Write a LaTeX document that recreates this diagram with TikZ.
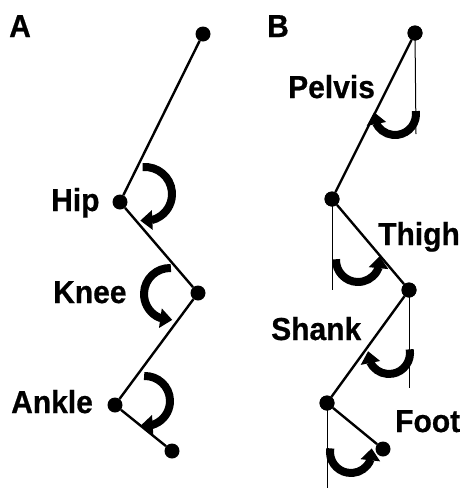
\documentclass[tikz,border=0pt]{standalone}
\usepackage{fontspec}
\setmainfont{Liberation Sans}
\newfontfamily\lblfont[FakeBold=0.6]{Liberation Sans Bold}
\usetikzlibrary{arrows.meta,bending}
\newcommand{\lbltext}[1]{\scalebox{1}[1.06]{#1}}
\begin{document}
\begin{tikzpicture}[x=1pt,y=-1pt,
  joint/.style={circle,fill=black,inner sep=0pt,minimum size=15pt},
  seg/.style={line width=2.4pt},
  refline/.style={line width=1pt},
  rot/.style={line width=8pt,-{Triangle[width=19pt,length=12pt,flex]}},
  lbl/.style={anchor=base west,inner sep=0pt,font=\fontsize{30}{34}\lblfont},
]
\useasboundingbox (0,0) rectangle (465,488);
% panel letters
\node[lbl] (lA) at (9,37) {\lbltext{A}};
\node[lbl] (lB) at (267,37) {\lbltext{B}};
% ---- Panel A ----
\node[joint] (a0) at (203,34) {};
\node[joint] (a1) at (120,202) {};
\node[joint] (a2) at (198,293) {};
\node[joint] (a3) at (115,405) {};
\node[joint] (a4) at (172,451) {};
\draw[seg] (a0) -- (a1);
\draw[seg] (a1) -- (a2);
\draw[seg] (a2) -- (a3);
\draw[seg] (a3) -- (a4);
\node[lbl] (hip) at (51,211) {\lbltext{Hip}};
\node[lbl] (knee) at (53,303) {\lbltext{Knee}};
\node[lbl] (ankle) at (11,413) {\lbltext{Ankle}};
% rotation arrows A
\draw[rot] (145,194) ++(-95:27) arc[start angle=-95,end angle=100,radius=27];
\draw[rot] (170,294) ++(-88:26) arc[start angle=-88,end angle=-275,radius=26];
\draw[rot] (145,401) ++(-92:25) arc[start angle=-92,end angle=100,radius=25];
% ---- Panel B ----
\node[joint] (b0) at (415,33) {};
\node[joint] (b1) at (332,199) {};
\node[joint] (b2) at (409,290) {};
\node[joint] (b3) at (327,403) {};
\node[joint] (b4) at (383,449) {};
\coordinate (v0) at (416,134);
\coordinate (v1) at (332,290);
\coordinate (v2) at (409,388);
\coordinate (v3) at (327,488);
\draw[refline] (b0.center) -- (v0);
\draw[refline] (b1.center) -- (v1);
\draw[refline] (b2.center) -- (v2);
\draw[refline] (b3.center) -- (v3);
\node[joint] at (b0) {};
\node[joint] at (b1) {};
\node[joint] at (b2) {};
\node[joint] at (b3) {};
\draw[seg] (b0) -- (b1);
\draw[seg] (b1) -- (b2);
\draw[seg] (b2) -- (b3);
\draw[seg] (b3) -- (b4);
\node[lbl] (pelvis) at (288,98) {\lbltext{Pelvis}};
\node[lbl] (thigh) at (378,245) {\lbltext{Thigh}};
\node[lbl] (shank) at (271,340) {\lbltext{Shank}};
\node[lbl] (foot) at (395,432) {\lbltext{Foot}};
% rotation arrows B
\draw[rot] (395,114) ++(-8:21) arc[start angle=-8,end angle=185,radius=21];
\draw[rot] (358,260) ++(182:22) arc[start angle=182,end angle=-10,radius=22];
\draw[rot] (389,353) ++(-10:21) arc[start angle=-10,end angle=185,radius=21];
\draw[rot] (351,452) ++(190:21) arc[start angle=190,end angle=-10,radius=21];
\end{tikzpicture}
\end{document}
